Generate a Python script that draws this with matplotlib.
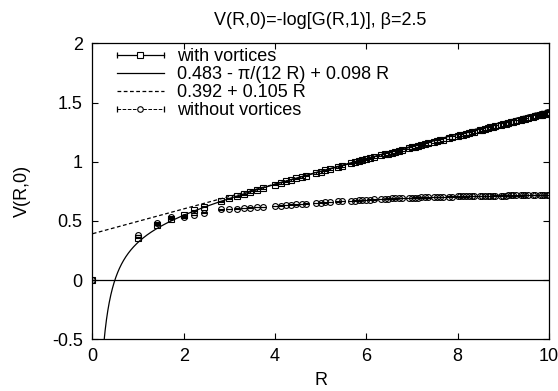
import matplotlib
matplotlib.use("Agg")
import matplotlib.pyplot as plt
import numpy as np
from matplotlib.lines import Line2D
from matplotlib.legend_handler import HandlerBase

plt.rcParams['font.family'] = ['Liberation Sans', 'DejaVu Sans']

title = "V(R,0)=-log[G(R,1)], β=2.5"
xlabel = "R"
ylabel = "V(R,0)"
xticks = [0, 2, 4, 6, 8, 10]
yticks = [-0.5, 0, 0.5, 1, 1.5, 2]
ytick_labels = ["-0.5", "0", "0.5", "1", "1.5", "2"]

R = [0.000, 1.000, 1.414, 1.732, 2.000, 2.236, 2.449, 2.828, 3.000, 3.162,
     3.317, 3.464, 3.606, 3.742, 4.000, 4.123, 4.243, 4.359, 4.472, 4.583,
     4.690, 4.899, 5.000, 5.099, 5.196, 5.385, 5.477, 5.657, 5.745, 5.831,
     5.916, 6.000, 6.083, 6.164, 6.325, 6.403, 6.481, 6.557, 6.633, 6.708,
     6.782, 6.928, 7.000, 7.071, 7.141, 7.211, 7.280, 7.348, 7.483, 7.550,
     7.616, 7.681, 7.810, 7.874, 8.000, 8.062, 8.124, 8.185, 8.246, 8.307,
     8.367, 8.485, 8.544, 8.602, 8.660, 8.718, 8.775, 8.832, 8.944, 9.000,
     9.055, 9.110, 9.165, 9.220, 9.274, 9.381, 9.434, 9.487, 9.539, 9.644,
     9.695, 9.798, 9.849, 9.899, 9.950, 10.000]

with_vortices = [0.000, 0.360, 0.470, 0.520, 0.550, 0.590, 0.620, 0.668, 0.690, 0.708,
                 0.727, 0.745, 0.762, 0.778, 0.808, 0.822, 0.835, 0.848, 0.860, 0.872,
                 0.884, 0.906, 0.916, 0.927, 0.938, 0.958, 0.967, 0.986, 0.995, 1.004,
                 1.012, 1.020, 1.030, 1.038, 1.055, 1.062, 1.070, 1.078, 1.086, 1.092,
                 1.100, 1.114, 1.122, 1.128, 1.136, 1.142, 1.150, 1.156, 1.170, 1.175,
                 1.182, 1.188, 1.202, 1.206, 1.220, 1.226, 1.230, 1.238, 1.242, 1.250,
                 1.254, 1.268, 1.272, 1.280, 1.284, 1.290, 1.296, 1.300, 1.312, 1.316,
                 1.322, 1.326, 1.334, 1.338, 1.342, 1.350, 1.362, 1.358, 1.368, 1.378,
                 1.384, 1.392, 1.398, 1.402, 1.406, 1.410]

with_vortices_err = [0.001, 0.004, 0.004, 0.004, 0.004, 0.005, 0.005, 0.005, 0.005, 0.005,
                     0.005, 0.006, 0.006, 0.006, 0.006, 0.006, 0.006, 0.006, 0.007, 0.007,
                     0.007, 0.007, 0.007, 0.007, 0.007, 0.008, 0.008, 0.008, 0.008, 0.008,
                     0.008, 0.008, 0.009, 0.009, 0.009, 0.009, 0.009, 0.009, 0.009, 0.010,
                     0.010, 0.010, 0.010, 0.010, 0.010, 0.010, 0.011, 0.011, 0.011, 0.011,
                     0.011, 0.011, 0.012, 0.012, 0.012, 0.012, 0.012, 0.012, 0.013, 0.013,
                     0.013, 0.013, 0.013, 0.013, 0.014, 0.014, 0.014, 0.014, 0.014, 0.015,
                     0.015, 0.015, 0.015, 0.015, 0.015, 0.016, 0.016, 0.016, 0.016, 0.016,
                     0.017, 0.017, 0.017, 0.017, 0.017, 0.018]

without_vortices = [0.000, 0.380, 0.480, 0.530, 0.530, 0.550, 0.570, 0.598, 0.600, 0.605,
                    0.608, 0.612, 0.616, 0.620, 0.626, 0.630, 0.634, 0.638, 0.641, 0.644,
                    0.647, 0.652, 0.655, 0.658, 0.660, 0.665, 0.667, 0.671, 0.673, 0.675,
                    0.677, 0.679, 0.681, 0.683, 0.686, 0.687, 0.689, 0.690, 0.691, 0.692,
                    0.693, 0.695, 0.696, 0.697, 0.698, 0.699, 0.700, 0.700, 0.702, 0.703,
                    0.703, 0.704, 0.705, 0.706, 0.707, 0.707, 0.708, 0.708, 0.709, 0.709,
                    0.710, 0.711, 0.711, 0.712, 0.712, 0.713, 0.713, 0.714, 0.714, 0.715,
                    0.715, 0.716, 0.716, 0.716, 0.717, 0.717, 0.718, 0.718, 0.718, 0.719,
                    0.719, 0.720, 0.720, 0.721, 0.721, 0.721]

without_vortices_err = [0.001, 0.002, 0.002, 0.002, 0.002, 0.002, 0.002, 0.002, 0.002, 0.002,
                        0.002, 0.002, 0.002, 0.002, 0.002, 0.002, 0.002, 0.002, 0.002, 0.002,
                        0.002, 0.002, 0.002, 0.002, 0.002, 0.002, 0.002, 0.002, 0.002, 0.002,
                        0.002, 0.002, 0.002, 0.002, 0.002, 0.002, 0.002, 0.002, 0.002, 0.002,
                        0.002, 0.002, 0.002, 0.002, 0.002, 0.002, 0.002, 0.002, 0.002, 0.002,
                        0.002, 0.002, 0.002, 0.002, 0.002, 0.002, 0.002, 0.002, 0.002, 0.002,
                        0.002, 0.002, 0.002, 0.002, 0.002, 0.002, 0.002, 0.002, 0.002, 0.002,
                        0.002, 0.002, 0.002, 0.002, 0.002, 0.002, 0.002, 0.002, 0.002, 0.002,
                        0.002, 0.002, 0.002, 0.002, 0.002, 0.002]

fit1_a, fit1_b, fit1_c = 0.483, np.pi / 12, 0.098
fit2_a, fit2_b = 0.392, 0.105

DOT = (0, (1.6, 1.6))
DASH = (0, (3, 2))
FS = 13

fig = plt.figure(figsize=(5.58, 3.91), dpi=100)
ax = fig.add_axes([0.1655, 0.132, 0.818, 0.757])

ax.axhline(0, color='black', lw=0.9, zorder=1)

xf = np.linspace(0.01, 10, 2000)
ax.plot(xf, fit1_a - fit1_b / xf + fit1_c * xf, color='black', lw=0.9, zorder=2)
ax.plot(xf, fit2_a + fit2_b * xf, color='black', lw=0.9, ls=DASH, zorder=2)

ax.errorbar(R, without_vortices, yerr=without_vortices_err, fmt='o', ms=4.2,
            mfc='none', mec='black', mew=0.8, ecolor='black', elinewidth=0.7,
            capsize=2.0, capthick=0.8, zorder=3)
ax.errorbar(R, with_vortices, yerr=with_vortices_err, fmt='s', ms=4, mfc='none',
            mec='black', mew=0.8, ecolor='black', elinewidth=0.8, capsize=2.0,
            capthick=0.8, zorder=4)

ax.set_xlim(0, 10)
ax.set_ylim(-0.5, 2)
ax.set_xticks(xticks)
ax.set_yticks(yticks)
ax.set_yticklabels(ytick_labels)
ax.tick_params(direction='in', top=True, right=True, length=4, width=0.8,
               labelsize=FS)
ax.tick_params(axis='x', pad=6)
ax.tick_params(axis='y', pad=7)
for s in ax.spines.values():
    s.set_linewidth(0.9)

ax.set_title(title, fontsize=FS, pad=13)
ax.set_xlabel(xlabel, fontsize=FS, labelpad=5)
ax.set_ylabel(ylabel, fontsize=FS, labelpad=15)


class ErrLegendHandler(HandlerBase):
    def create_artists(self, legend, orig_handle, xdescent, ydescent, width,
                       height, fontsize, trans):
        y = height / 2 - ydescent
        x0 = -xdescent
        x1 = -xdescent + width
        line = Line2D([x0, x1], [y, y], color='black',
                      lw=orig_handle.get_linewidth(), ls=orig_handle.get_linestyle())
        caps = Line2D([x0, x1], [y, y], lw=0, color='black', marker='|', ms=4, mew=0.9)
        mark = Line2D([(x0 + x1) / 2], [y], lw=0, color='black',
                      marker=orig_handle.get_marker(), ms=4, mfc='white', mew=0.8)
        for a in (line, caps, mark):
            a.set_transform(trans)
        return [line, caps, mark]


h_with = Line2D([], [], color='black', lw=0.9, ls='-', marker='s')
h_fit1 = Line2D([], [], color='black', lw=0.9)
h_fit2 = Line2D([], [], color='black', lw=0.9, ls=DASH)
h_nov = Line2D([], [], color='black', lw=0.7, ls=DOT, marker='o')

leg = ax.legend([h_with, h_fit1, h_fit2, h_nov],
                ["with vortices", "0.483 - π/(12 R) + 0.098 R", "0.392 + 0.105 R",
                 "without vortices"],
                loc='upper left', bbox_to_anchor=(0.03, 1.02), frameon=False,
                fontsize=FS, numpoints=1, handlelength=2.6, handletextpad=0.72,
                labelspacing=0.05, borderaxespad=0.2,
                handler_map={h_with: ErrLegendHandler(), h_nov: ErrLegendHandler()})

fig.savefig("out.png", dpi=100)
